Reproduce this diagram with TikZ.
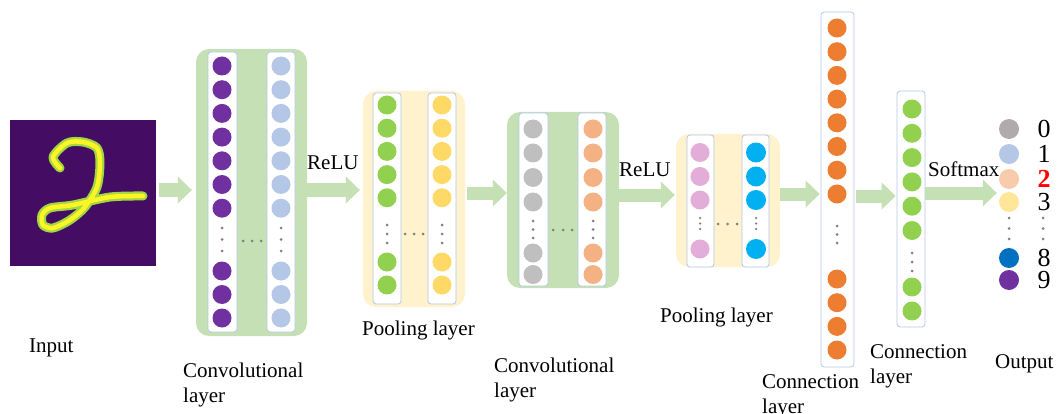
\documentclass[tikz,border=0pt]{standalone}
\usepackage{fontspec}
\setmainfont{Liberation Serif}
\usetikzlibrary{positioning,arrows.meta}
\definecolor{convgreen}{HTML}{C5E0B4}
\definecolor{poolyellow}{HTML}{FFF2CC}
\definecolor{colline}{HTML}{B4C7E7}
\definecolor{dotgray}{HTML}{808080}
\definecolor{inputbg}{HTML}{440C62}
\definecolor{cpurple}{HTML}{7030A0}
\definecolor{clblue}{HTML}{B4C7E7}
\definecolor{cgreen}{HTML}{92D050}
\definecolor{cyellow}{HTML}{FFD966}
\definecolor{cgray}{HTML}{BFBFBF}
\definecolor{cpeach}{HTML}{F4B183}
\definecolor{cpink}{HTML}{E2ADD8}
\definecolor{ccyan}{HTML}{00B0F0}
\definecolor{corange}{HTML}{ED7D31}
\definecolor{ogray}{HTML}{AFABAB}
\definecolor{opeach}{HTML}{F8CBAD}
\definecolor{oyellow}{HTML}{FFE699}
\definecolor{oblue}{HTML}{0070C0}

\begin{document}
\begin{tikzpicture}[x=1pt,y=-1pt,
  neuron/.style={circle,minimum size=19pt,inner sep=0pt},
  column/.style={draw=colline,line width=0.8pt,fill=white,rounded corners=3pt,inner sep=0pt},
  layer/.style={rounded corners=13pt,inner sep=0pt},
  vdot/.style={circle,fill=dotgray,minimum size=3pt,inner sep=0pt},
  flow/.style={draw=convgreen,line width=13pt,-{Triangle[length=14pt,width=27pt,line width'=0pt]}},
  caption/.style={font=\fontsize{21}{25}\selectfont,align=left,anchor=base west,inner sep=0pt},
  digit/.style={font=\fontsize{26}{30}\selectfont,inner sep=0pt}]
\useasboundingbox (0,0) rectangle (1059,414);

\node [fill=inputbg,minimum size=146pt,inner sep=0pt] (input) at (83,193) {};
\draw [line width=9pt,color=cgreen!85!yellow,line cap=round,line join=round]
  plot[smooth] coordinates {(60,168) (53,157) (67,143) (83,142) (97,148) (100,163) (97,187) (85,207)
  (70,220) (53,228) (43,225) (42,215) (50,208) (73,205) (110,197) (143,196)};
\draw [line width=4.5pt,color=yellow!85!white,line cap=round,line join=round]
  plot[smooth] coordinates {(60,168) (53,157) (67,143) (83,142) (97,148) (100,163) (97,187) (85,207)
  (70,220) (53,228) (43,225) (42,215) (50,208) (73,205) (110,197) (143,196)};

\node [layer,fill=convgreen,minimum width=111pt,minimum height=287pt] (conv1) at (251.5,192.5) {};
\node [column,minimum width=29pt,minimum height=280pt] (conv1a) at (222.5,192) {};
\node [column,minimum width=28pt,minimum height=280pt] (conv1b) at (281,192) {};
\foreach \y [count=\i] in {66,89.7,113.4,137.1,160.8,184.5,208.2,271,294.5,318} {
  \node [neuron,fill=cpurple] (c1a\i) at (222,\y) {};
  \node [neuron,fill=clblue] (c1b\i) at (281,\y) {};
}
\foreach \y [count=\i] in {228,239.5,251} {
  \node [vdot] (c1ad\i) at (222,\y) {};
  \node [vdot] (c1bd\i) at (281,\y) {};
}
\foreach \x [count=\i] in {243,252,261} \node [vdot] (c1h\i) at (\x,241) {};

\node [layer,fill=poolyellow,minimum width=102pt,minimum height=216pt] (pool1) at (414,199) {};
\node [column,minimum width=28pt,minimum height=211pt] (pool1a) at (387,198.5) {};
\node [column,minimum width=28pt,minimum height=211pt] (pool1b) at (442,198.5) {};
\foreach \y [count=\i] in {105,128.2,151.4,174.6,197.8,262,285} {
  \node [neuron,fill=cgreen] (p1a\i) at (387,\y) {};
  \node [neuron,fill=cyellow] (p1b\i) at (442,\y) {};
}
\foreach \y [count=\i] in {225,234,243} {
  \node [vdot] (p1ad\i) at (387,\y) {};
  \node [vdot] (p1bd\i) at (442,\y) {};
}
\foreach \x [count=\i] in {405,414,423} \node [vdot] (p1h\i) at (\x,234) {};

\node [layer,fill=convgreen,minimum width=112pt,minimum height=176pt] (conv2) at (563,200) {};
\node [column,minimum width=29pt,minimum height=173pt] (conv2a) at (533.5,199.5) {};
\node [column,minimum width=28pt,minimum height=173pt] (conv2b) at (592,199.5) {};
\foreach \y [count=\i] in {129,153,177.5,202,253,274.5} {
  \node [neuron,fill=cgray] (c2a\i) at (533,\y) {};
  \node [neuron,fill=cpeach] (c2b\i) at (593,\y) {};
}
\foreach \y [count=\i] in {221,229.5,238} {
  \node [vdot] (c2ad\i) at (533,\y) {};
  \node [vdot] (c2bd\i) at (593,\y) {};
}
\foreach \x [count=\i] in {553,563,572} \node [vdot] (c2h\i) at (\x,230) {};

\node [layer,fill=poolyellow,minimum width=104pt,minimum height=133pt] (pool2) at (728,200.5) {};
\node [column,minimum width=27pt,minimum height=132pt] (pool2a) at (700.5,201) {};
\node [column,minimum width=27pt,minimum height=132pt] (pool2b) at (755.5,201) {};
\foreach \y [count=\i] in {152.5,176.5,200,249} {
  \node [neuron,fill=cpink] (p2a\i) at (700,\y) {};
  \node [neuron,fill=ccyan,minimum size=20pt] (p2b\i) at (756,\y) {};
}
\foreach \y [count=\i] in {218,223.5,229} {
  \node [vdot,minimum size=2.5pt] (p2ad\i) at (700,\y) {};
  \node [vdot,minimum size=2.5pt] (p2bd\i) at (756,\y) {};
}
\foreach \x [count=\i] in {718,727.5,737} \node [vdot] (p2h\i) at (\x,224) {};

\node [column,minimum width=33pt,minimum height=355pt] (fc1) at (837.5,189.5) {};
\foreach \y [count=\i] in {28,51.7,75.4,99.1,122.8,146.5,170.2,194,279,302.7,326.4,350}
  \node [neuron,fill=corange] (f1n\i) at (837,\y) {};
\foreach \y [count=\i] in {226,234.5,243} \node [vdot] (f1d\i) at (837,\y) {};

\node [column,minimum width=28pt,minimum height=236pt] (fc2) at (911,209) {};
\foreach \y [count=\i] in {109,133.3,157.6,181.9,206.2,230.5,287,311}
  \node [neuron,fill=cgreen] (f2n\i) at (912,\y) {};
\foreach \y [count=\i] in {253,262,271} \node [vdot] (f2d\i) at (912,\y) {};

\foreach \y/\c/\d [count=\i] in {129/ogray/0,154/clblue/1,179/opeach/{\textcolor{red}{\textbf{2}}},202/oyellow/3,258/oblue/8,280/cpurple/9} {
  \node [neuron,fill=\c,minimum size=20pt] (o\i) at (1009,\y) {};
  \node [digit] (o\i d) at (1044,\y) {\d};
}
\foreach \y [count=\i] in {218,228.5,239} {
  \node [vdot] (od\i) at (1009,\y) {};
  \node [vdot] (odd\i) at (1043,\y) {};
}

\draw [flow,shorten <=3pt,shorten >=4pt] (input.east |- 0,190) -- (conv1.west |- 0,190);
\draw [flow,shorten <=-1pt,shorten >=3pt] (conv1.east |- 0,190) -- (pool1.west |- 0,190);
\draw [flow,shorten <=2pt] (pool1.east |- 0,193) -- (conv2.west |- 0,193);
\draw [flow,shorten <=-1pt,shorten >=1pt] (conv2.east |- 0,195) -- (pool2.west |- 0,195);
\draw [flow,shorten >=1pt] (pool2.east |- 0,194) -- (fc1.west |- 0,194);
\draw [flow,shorten <=2pt,shorten >=1pt] (fc1.east |- 0,196) -- (fc2.west |- 0,196);
\draw [flow,shorten >=2pt] (fc2.east |- 0,193) -- (o3.west |- 0,193);

\node [caption] (inlab) at (29,352) {Input};
\node [caption] (conv1lab) at (183,402) {Convolutional\\layer};
\node [caption] (relu1) at (307,170) {ReLU};
\node [caption] (pool1lab) at (362,335) {Pooling layer};
\node [caption] (conv2lab) at (494,397) {Convolutional\\layer};
\node [caption] (relu2) at (619,177) {ReLU};
\node [caption] (pool2lab) at (660,322) {Pooling layer};
\node [caption] (fc1lab) at (762,413) {Connection\\layer};
\node [caption] (fc2lab) at (870,383) {Connection\\layer};
\node [caption] (softlab) at (928,176) {Softmax};
\node [caption] (outlab) at (995,368) {Output};
\end{tikzpicture}
\end{document}
